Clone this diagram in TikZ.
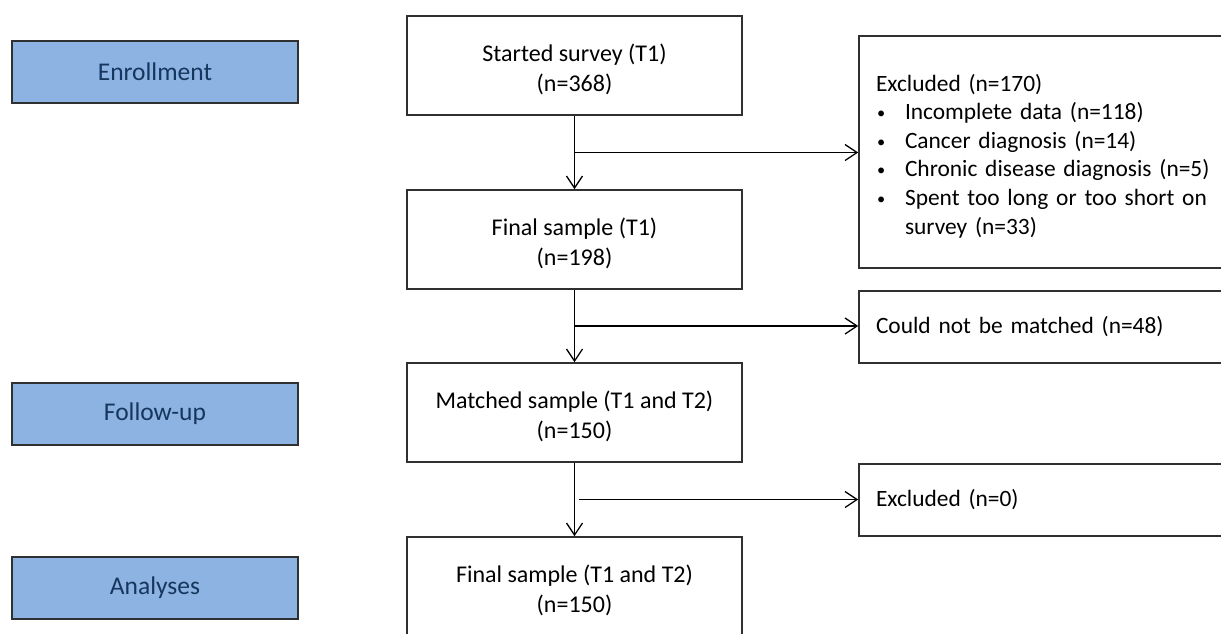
\documentclass[tikz,border=0pt]{standalone}
\usepackage{fontspec}
\setmainfont{Carlito}
\usepackage{graphicx}
\usetikzlibrary{arrows.meta,calc}
\definecolor{stageblue}{HTML}{8DB3E2}
\definecolor{stagetext}{HTML}{17365D}
\definecolor{edge}{HTML}{303030}
\newcommand{\bul}{\makebox[29pt][l]{\hspace{1pt}\raisebox{1pt}{\scalebox{0.7}{\textbullet}}}}
\newcommand{\topstrut}[1]{\rule{0pt}{#1}}
\tikzset{
  stagebox/.style={draw=edge, line width=1.6pt, fill=stageblue, text=stagetext,
    minimum width=286pt, minimum height=62pt, inner sep=0pt,
    font=\fontsize{25.5}{30}\selectfont},
  flowbox/.style={draw=edge, line width=1.6pt, fill=white, align=center,
    minimum width=335pt, minimum height=99pt, inner sep=0pt,
    font=\fontsize{24}{30}\selectfont},
  sidebox/.style={draw=edge, line width=1.6pt, fill=white, align=left,
    minimum width=381pt, inner xsep=17pt, inner ysep=0pt, text width=347pt,
    font=\fontsize{23.4}{28.6}\selectfont},
  arr/.style={draw=black, line width=1.3pt, -{Straight Barb[length=12pt,width=16pt,line width=1.3pt]}},
}
\begin{document}
\begin{tikzpicture}[x=1pt,y=-1pt]
\clip (0,0) rectangle (1221,633);
\fill[white] (0,0) rectangle (1221,633);
% stage labels
\node[stagebox] (enr) at (155,72) {Enrollment};
\node[stagebox] (fol) at (155,414) {Follow-up};
\node[stagebox] (ana) at (155,588) {Analyses};
% main flow
\node[flowbox] (start) at (574.5,65.5) {\topstrut{26pt}Started survey (T1)\\(n=368)};
\node[flowbox] (fin1) at (574.5,239.5) {\topstrut{26pt}Final sample (T1)\\(n=198)};
\node[flowbox] (match) at (574.5,412.5) {\topstrut{26pt}Matched sample (T1 and T2)\\(n=150)};
\node[flowbox] (fin2) at (574.5,586.5) {\topstrut{26pt}Final sample (T1 and T2)\\(n=150)};
% side boxes
\node[sidebox, minimum height=232pt] (exc1) at (1049.5,152) {\topstrut{25pt}Excluded (n=170)\\
\bul Incomplete data (n=118)\\
\bul Cancer diagnosis (n=14)\\
\bul Chronic disease diagnosis (n=5)\\
\bul Spent too long or too short on\\
\hspace*{29pt}survey (n=33)};
\node[sidebox, minimum height=72pt] (nomatch) at (1049.5,327) {Could not be matched (n=48)};
\node[sidebox, minimum height=72pt] (exc0) at (1049.5,500) {Excluded (n=0)};
% connectors
\draw[arr] (start.south) -- (fin1.north);
\coordinate (b1) at ($(start.south)!0.5!(fin1.north)$);
\draw[arr] (b1) -- (b1 -| exc1.west);
\draw[arr] (fin1.south) -- (match.north);
\coordinate (b2) at ($(fin1.south)!0.5!(match.north)$);
\draw[arr] (b2) -- (b2 -| nomatch.west);
\draw[arr] (match.south) -- (fin2.north);
\coordinate (b3) at ($(match.south)!0.5!(fin2.north)$);
\draw[arr] ([xshift=4pt]b3) -- (b3 -| exc0.west);
\end{tikzpicture}
\end{document}
